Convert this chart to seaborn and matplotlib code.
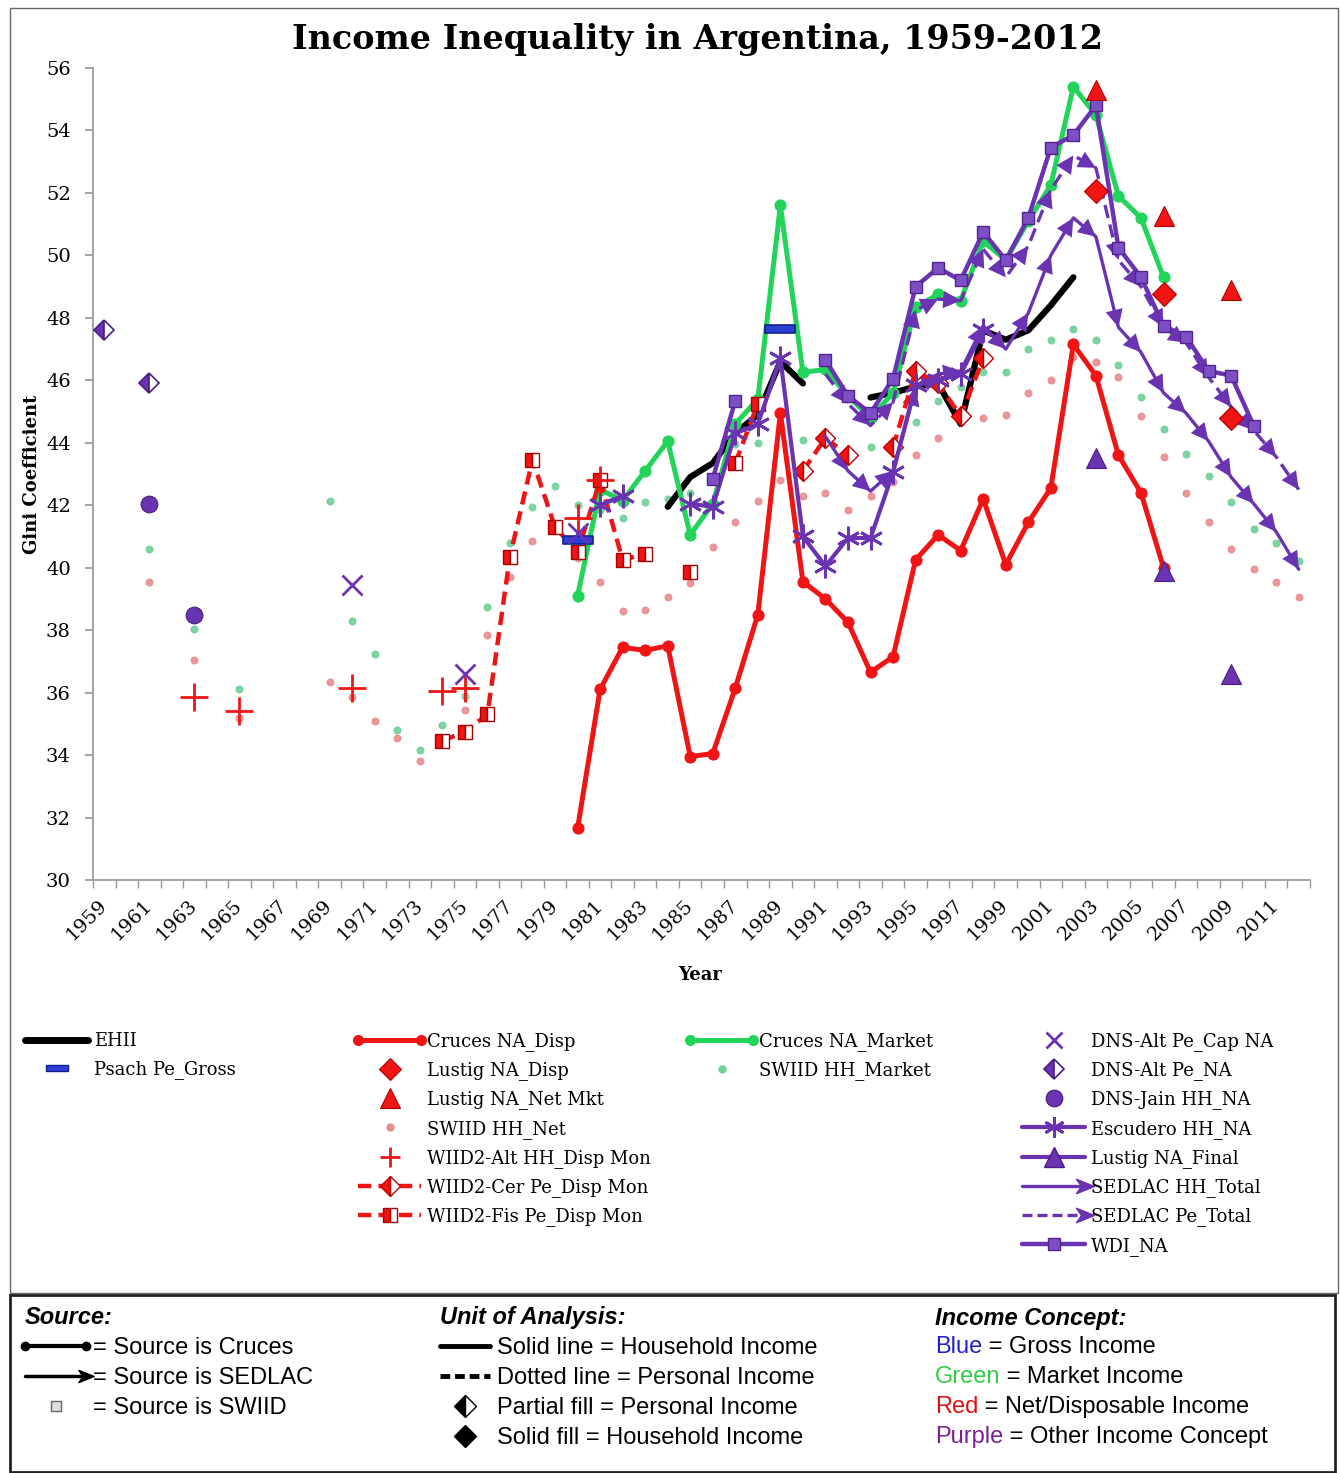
import numpy as np
import pandas as pd
import seaborn as sns
import matplotlib.pyplot as plt
from matplotlib.lines import Line2D
from matplotlib.legend_handler import HandlerLine2D
from matplotlib.patches import Rectangle
from matplotlib.path import Path

nan = np.nan

# ---- data (Gini coefficient by year) ----
SWIID_YEARS = [1961, 1963, 1965] + list(range(1969, 2013))
SWIID_NET = [39.55, 37.05, 35.2,
             36.35, 35.85, 35.1, 34.55, 33.8, 34.4, 35.45, 37.85, 39.7, 40.85,
             41.3, 40.3, 39.55, 38.6, 38.65, 39.05, 39.5, 40.65, 41.45, 42.15,
             42.8, 42.3, 42.4, 41.85, 42.3, 42.75, 43.6, 44.15, 44.65, 44.8,
             44.9, 45.6, 46.0, 46.75, 46.6, 46.1, 44.85, 43.55, 42.4, 41.45,
             40.6, 39.95, 39.55, 39.05]
SWIID_MARKET = [40.6, 38.05, 36.1,
                42.15, 38.3, 37.25, 34.8, 34.15, 34.95, 35.9, 38.75, 40.8, 41.95,
                42.6, 42.0, 41.85, 41.6, 42.1, 42.2, 42.4, 42.9, 43.95, 44.0,
                44.95, 44.1, 44.2, 43.5, 43.85, 44.0, 44.65, 45.35, 45.8, 46.25,
                46.25, 47.0, 47.3, 47.65, 47.3, 46.5, 45.45, 44.45, 43.65, 42.95,
                42.1, 41.25, 40.8, 40.2]

CRUCES_YEARS = list(range(1980, 2007))
CRUCES_DISP = [31.65, 36.1, 37.45, 37.35, 37.5, 33.95, 34.05, 36.15, 38.5, 44.95,
               39.55, 39.0, 38.25, 36.65, 37.15, 40.25, 41.05, 40.55, 42.2, 40.1,
               41.45, 42.55, 47.15, 46.15, 43.6, 42.4, 40.0]
CRUCES_MARKET = [39.1, 42.5, 42.15, 43.1, 44.05, 41.05, 42.05, 44.6, 45.4, 51.6,
                 46.25, 46.35, 45.5, 44.8, 45.6, 48.35, 48.75, 48.55, 50.45, 49.85,
                 51.1, 52.25, 55.4, 54.5, 51.9, 51.2, 49.3]

EHII_YEARS = list(range(1984, 2003))
EHII = [41.95, 42.9, 43.35, 44.3, 44.9, 46.6, 45.9, nan, nan, 45.45,
        45.6, 45.8, 45.9, 44.6, 47.6, 47.3, 47.6, 48.4, 49.3]

PSACH_YEARS = [1980, 1989]
PSACH = [40.9, 47.65]

LUSTIG_YEARS = [2003, 2006, 2009]
LUSTIG_DISP = [52.05, 48.75, 44.8]
LUSTIG_NET_MKT = [55.3, 51.25, 48.9]
LUSTIG_FINAL = [43.5, 39.9, 36.6]

WIID_ALT_YEARS = [1963, 1965, 1970, 1974, 1975, 1980, 1981]
WIID_ALT = [35.85, 35.4, 36.15, 36.05, 36.15, 41.6, 42.8]

WIID_CER_YEARS = list(range(1990, 1999))
WIID_CER = [43.1, 44.15, 43.6, nan, 43.85, 46.3, 45.9, 44.85, 46.7]

WIID_FIS_YEARS = list(range(1974, 1989))
WIID_FIS = [34.45, 34.75, 35.3, 40.35, 43.45, 41.3, 40.5, 42.8, 40.25, 40.45,
            nan, 39.85, nan, 43.35, 45.25]

DNS_CAP_YEARS = [1970, 1975, 1980]
DNS_CAP = [39.45, 36.6, 41.1]
DNS_PE_YEARS = [1959, 1961]
DNS_PE = [47.6, 45.9]
DNS_JAIN_YEARS = [1961, 1963]
DNS_JAIN = [42.05, 38.5]

ESCUDERO_YEARS = list(range(1981, 1999))
ESCUDERO = [42.0, 42.3, nan, nan, 42.05, 41.95, 44.3, 44.6, 46.7, 41.0,
            40.05, 40.95, 40.95, 43.05, 45.85, 46.0, 46.2, 47.6]

SEDLAC_YEARS = list(range(1991, 2013))
SEDLAC_HH = [44.2, 43.1, 42.45, 43.1, 45.75, 46.2, 46.3, 47.75, 47.0, 48.15,
             50.0, 51.2, 50.6, 47.7, 46.9, 45.6, 44.95, 44.05, 42.9, 42.05,
             41.15, 39.95]
SEDLAC_PE = [46.2, 45.25, 44.55, 45.3, 48.25, 48.6, 48.55, 50.2, 49.3, 50.3,
             52.1, 53.2, 52.8, 49.85, 49.0, 47.7, 47.2, 46.1, 45.15, 44.4,
             43.55, 42.5]

WDI_YEARS = list(range(1986, 2011))
WDI = [42.85, 45.35, nan, nan, nan, 46.65, 45.5, 44.95, 46.05, 49.0,
       49.6, 49.2, 50.75, 49.85, 51.2, 53.45, 53.85, 54.8, 50.25, 49.3,
       47.75, 47.4, 46.3, 46.15, 44.55]

# ---- styles ----
RED = "#f01414"
GREEN = "#22d45a"
PURPLE = "#6a33b2"
BLUE = "#2b3fd6"
PINK = "#e98c8e"
MINT = "#6fcf97"
W, H = 1340, 1473

ARROW = Path([(1, 0), (-1, 0.8), (-0.45, 0), (-1, -0.8), (1, 0)], closed=True)
RECT = Path([(-1, -0.28), (1, -0.28), (1, 0.28), (-1, 0.28), (-1, -0.28)], closed=True)

sns.set_theme(style="white")
plt.rcParams["font.family"] = ["DejaVu Serif"]
plt.rcParams["text.color"] = "black"
plt.rcParams["axes.labelcolor"] = "black"
plt.rcParams["xtick.color"] = "black"
plt.rcParams["ytick.color"] = "black"


def series_frame(years, values):
    df = pd.DataFrame({"year": years, "gini": values})
    df["seg"] = df["gini"].isna().cumsum()
    return df.dropna()


def draw(ax, years, values, **style):
    df = series_frame(years, values)
    sns.lineplot(data=df, x="year", y="gini", units="seg", estimator=None,
                 legend=False, ax=ax, **style)
    return df


def add_arrowheads(ax, df, color):
    for _, seg in df.groupby("seg"):
        xs, ys = seg["year"].to_numpy(float), seg["gini"].to_numpy(float)
        for x0, y0, x1, y1 in zip(xs[:-1], ys[:-1], xs[1:], ys[1:]):
            ax.annotate("", xy=(x1, y1), xytext=(x0, y0),
                        arrowprops=dict(arrowstyle="-|>,head_length=0.9,head_width=0.45",
                                        color=color, lw=0, shrinkA=0, shrinkB=0,
                                        mutation_scale=14))


class ArrowEndHandler(HandlerLine2D):
    def create_artists(self, *args, **kwargs):
        artists = super().create_artists(*args, **kwargs)
        for a in artists:
            a.set_markevery([len(a.get_xdata()) - 1])
        return artists


fig = plt.figure(figsize=(W / 100, H / 100), dpi=100)
ax = fig.add_axes([93 / W, 1 - 880 / H, 1217 / W, 812 / H])

dots = dict(linestyle="none", marker="o", markersize=5, zorder=2)
draw(ax, SWIID_YEARS, SWIID_NET, color=PINK, markeredgecolor=PINK, alpha=0.9, **dots)
draw(ax, SWIID_YEARS, SWIID_MARKET, color=MINT, markeredgecolor=MINT, alpha=0.9, **dots)

draw(ax, CRUCES_YEARS, CRUCES_DISP, color=RED, linewidth=3.6, marker="o", markersize=8,
     markeredgecolor=RED, zorder=3)
draw(ax, EHII_YEARS, EHII, color="black", linewidth=4.5, solid_capstyle="round", zorder=3)
draw(ax, CRUCES_YEARS, CRUCES_MARKET, color=GREEN, linewidth=3.6, marker="o", markersize=8,
     markeredgecolor=GREEN, zorder=3)

draw(ax, WIID_FIS_YEARS, WIID_FIS, color=RED, linewidth=3.2, linestyle=(0, (3, 1.6)),
     marker="s", markersize=10, fillstyle="left", markerfacecoloralt="white",
     markeredgecolor="#a80000", markeredgewidth=1, zorder=4)
draw(ax, WIID_CER_YEARS, WIID_CER, color=RED, linewidth=3.2, linestyle=(0, (3, 1.6)),
     marker="D", markersize=10, fillstyle="left", markerfacecoloralt="white",
     markeredgecolor="#c00000", markeredgewidth=1, zorder=4)

sed_pe = draw(ax, SEDLAC_YEARS, SEDLAC_PE, color=PURPLE, linewidth=2.4,
              linestyle=(0, (4, 2)), zorder=4)
add_arrowheads(ax, sed_pe, PURPLE)
sed_hh = draw(ax, SEDLAC_YEARS, SEDLAC_HH, color=PURPLE, linewidth=2.4, zorder=4)
add_arrowheads(ax, sed_hh, PURPLE)
draw(ax, ESCUDERO_YEARS, ESCUDERO, color=PURPLE, linewidth=3, marker=(6, 2, 0),
     markersize=17, markeredgecolor=PURPLE, markeredgewidth=2, zorder=4)
draw(ax, WDI_YEARS, WDI, color=PURPLE, linewidth=3.2, marker="s", markersize=9,
     markerfacecolor="#7d4fc4", markeredgecolor="#55238f", markeredgewidth=1, zorder=5)

pts = dict(linestyle="none", zorder=6)
draw(ax, PSACH_YEARS, PSACH, color=BLUE, marker=RECT, markersize=22,
     markeredgecolor="#14208c", markeredgewidth=1.2, **pts)
draw(ax, LUSTIG_YEARS, LUSTIG_DISP, color=RED, marker="D", markersize=12,
     markeredgecolor="#b00000", markeredgewidth=0.8, **pts)
draw(ax, LUSTIG_YEARS, LUSTIG_NET_MKT, color=RED, marker="^", markersize=15,
     markeredgecolor="#b00000", markeredgewidth=0.8, **pts)
draw(ax, LUSTIG_YEARS, LUSTIG_FINAL, color=PURPLE, marker="^", markersize=15,
     markeredgecolor="#4a1d80", markeredgewidth=0.8, **pts)
draw(ax, WIID_ALT_YEARS, WIID_ALT, color=RED, marker="+", markersize=20,
     markeredgecolor=RED, markeredgewidth=2, **pts)
draw(ax, DNS_CAP_YEARS, DNS_CAP, color=PURPLE, marker="x", markersize=14,
     markeredgecolor=PURPLE, markeredgewidth=2, **pts)
draw(ax, DNS_PE_YEARS, DNS_PE, color=PURPLE, marker="D", markersize=10, fillstyle="left",
     markerfacecoloralt="white", markeredgecolor="#4a1d80", markeredgewidth=1.2, **pts)
draw(ax, DNS_JAIN_YEARS, DNS_JAIN, color=PURPLE, marker="o", markersize=12,
     markeredgecolor="#4a1d80", markeredgewidth=0.8, **pts)

# ---- axes ----
ax.set_xlim(1958.5, 2012.5)
ax.set_ylim(30, 56)
ax.set_yticks(range(30, 57, 2))
ax.set_xticks(range(1959, 2012, 2))
ax.set_xticks(np.arange(1958.5, 2013, 1), minor=True)
ax.set_xticklabels([str(y) for y in range(1959, 2012, 2)], rotation=45,
                   ha="right", va="center", rotation_mode="anchor")
ax.tick_params(axis="x", which="major", bottom=False, labelsize=14, pad=10)
ax.tick_params(axis="x", which="minor", bottom=True, length=6, color="#999999")
ax.tick_params(axis="y", left=True, length=6, color="#999999", labelsize=14, pad=10)
sns.despine(ax=ax)
for side in ("left", "bottom"):
    ax.spines[side].set_color("#999999")
ax.set_xlabel("Year", fontsize=13, fontweight="bold")
ax.set_ylabel("Gini Coefficient", fontsize=13, fontweight="bold")
ax.xaxis.set_label_coords(0.499, -0.106)
ax.yaxis.set_label_coords(-0.043, 0.5)

fig.text(698 / W, 1 - 40 / H, "Income Inequality in Argentina, 1959-2012",
         ha="center", va="center", fontsize=24, fontweight="bold")

# ---- series legend (four columns) ----
h_ehii = Line2D([], [], color="black", lw=5)
h_psach = Line2D([], [], ls="none", marker=RECT, ms=16, mfc=BLUE, mec="#14208c", mew=1)
h_cdisp = Line2D([], [], color=RED, lw=3.6, marker="o", ms=7, mec=RED)
h_ldisp = Line2D([], [], ls="none", marker="D", ms=11, mfc=RED, mec="#b00000", mew=0.8)
h_lnet = Line2D([], [], ls="none", marker="^", ms=14, mfc=RED, mec="#b00000", mew=0.8)
h_snet = Line2D([], [], ls="none", marker="o", ms=5, mfc=PINK, mec=PINK)
h_walt = Line2D([], [], ls="none", marker="+", ms=14, mec=RED, mew=2)
h_wcer = Line2D([], [], color=RED, lw=3.2, ls=(0, (3, 1.6)), marker="D", ms=10,
                fillstyle="left", markerfacecoloralt="white", mfc=RED, mec="#c00000", mew=1)
h_wfis = Line2D([], [], color=RED, lw=3.2, ls=(0, (3, 1.6)), marker="s", ms=10,
                fillstyle="left", markerfacecoloralt="white", mfc=RED, mec="#a80000", mew=1)
h_cmkt = Line2D([], [], color=GREEN, lw=3.6, marker="o", ms=7, mec=GREEN)
h_smkt = Line2D([], [], ls="none", marker="o", ms=5, mfc=MINT, mec=MINT)
h_dcap = Line2D([], [], ls="none", marker="x", ms=12, mec=PURPLE, mew=2)
h_dpe = Line2D([], [], ls="none", marker="D", ms=10, fillstyle="left",
               markerfacecoloralt="white", mfc=PURPLE, mec="#4a1d80", mew=1.2)
h_djain = Line2D([], [], ls="none", marker="o", ms=12, mfc=PURPLE, mec="#4a1d80", mew=0.8)
h_esc = Line2D([], [], color=PURPLE, lw=3, marker=(6, 2, 0), ms=15, mec=PURPLE, mew=2)
h_lfin = Line2D([], [], color=PURPLE, lw=3, marker="^", ms=14, mfc=PURPLE, mec="#4a1d80")
h_shh = Line2D([], [], color=PURPLE, lw=2.4, marker=ARROW, ms=13, mfc=PURPLE, mec=PURPLE)
h_spe = Line2D([], [], color=PURPLE, lw=2.4, ls=(0, (3, 1.5)), marker=ARROW, ms=13,
               mfc=PURPLE, mec=PURPLE)
h_wdi = Line2D([], [], color=PURPLE, lw=3.2, marker="s", ms=9, mfc="#7d4fc4", mec="#55238f")

two_ends = HandlerLine2D(numpoints=2, marker_pad=0)
arrow_end = ArrowEndHandler()
columns = [
    (25, [h_ehii, h_psach], ["EHII", "Psach Pe_Gross"], {}),
    (358, [h_cdisp, h_ldisp, h_lnet, h_snet, h_walt, h_wcer, h_wfis],
     ["Cruces NA_Disp", "Lustig NA_Disp", "Lustig NA_Net Mkt", "SWIID HH_Net",
      "WIID2-Alt HH_Disp Mon", "WIID2-Cer Pe_Disp Mon", "WIID2-Fis Pe_Disp Mon"],
     {h_cdisp: two_ends}),
    (690, [h_cmkt, h_smkt], ["Cruces NA_Market", "SWIID HH_Market"], {h_cmkt: two_ends}),
    (1022, [h_dcap, h_dpe, h_djain, h_esc, h_lfin, h_shh, h_spe, h_wdi],
     ["DNS-Alt Pe_Cap NA", "DNS-Alt Pe_NA", "DNS-Jain HH_NA", "Escudero HH_NA",
      "Lustig NA_Final", "SEDLAC HH_Total", "SEDLAC Pe_Total", "WDI_NA"],
     {h_shh: arrow_end, h_spe: arrow_end}),
]
for x_px, handles, labels, hmap in columns:
    fig.legend(handles, labels, loc="upper left", bbox_to_anchor=(x_px / W, 1 - 1032 / H),
               frameon=False, fontsize=13, handlelength=3.5, handletextpad=0.3,
               labelspacing=0.57, borderpad=0, borderaxespad=0, handler_map=hmap)

# ---- key box at the bottom ----
box_font = {"family": "Liberation Sans", "size": 17}
head_font = {"family": "Liberation Sans", "size": 17, "weight": "bold", "style": "italic"}

k_cruces = Line2D([], [], color="black", lw=3, marker="o", ms=6)
k_sedlac = Line2D([], [], color="black", lw=2.5, marker=ARROW, ms=11, mfc="black", mec="black")
k_swiid = Line2D([], [], ls="none", marker="s", ms=7, mfc="#dddddd", mec="#666666")
fig.legend([k_cruces, k_sedlac, k_swiid],
           ["= Source is Cruces", "= Source is SEDLAC", "= Source is SWIID"],
           loc="upper left", bbox_to_anchor=(25 / W, 1 - 1306 / H), title="Source:",
           alignment="left", title_fontproperties=head_font, prop=box_font, frameon=False,
           handlelength=2.6, handletextpad=0.3, labelspacing=0.34, borderpad=0,
           borderaxespad=0, handler_map={k_cruces: HandlerLine2D(numpoints=2, marker_pad=0),
                                         k_sedlac: ArrowEndHandler()})

k_solid = Line2D([], [], color="black", lw=3.5)
k_dash = Line2D([], [], color="black", lw=3.5, ls=(0, (2, 1)))
k_part = Line2D([], [], ls="none", marker="D", ms=11, fillstyle="left",
                markerfacecoloralt="white", mfc="black", mec="black")
k_full = Line2D([], [], ls="none", marker="D", ms=11, mfc="black", mec="black")
fig.legend([k_solid, k_dash, k_part, k_full],
           ["Solid line = Household Income", "Dotted line = Personal Income",
            "Partial fill = Personal Income", "Solid fill = Household Income"],
           loc="upper left", bbox_to_anchor=(440 / W, 1 - 1306 / H), title="Unit of Analysis:",
           alignment="left", title_fontproperties=head_font, prop=box_font, frameon=False,
           handlelength=2.1, handletextpad=0.3, labelspacing=0.34, borderpad=0,
           borderaxespad=0)

fig.text(935 / W, 1 - 1318 / H, "Income Concept:", ha="left", va="center", **head_font)
concepts = [("Blue", "#2020d0", " = Gross Income"),
            ("Green", "#33cc44", " = Market Income"),
            ("Red", "#dd1111", " = Net/Disposable Income"),
            ("Purple", "#7a1f8f", " = Other Income Concept")]
for i, (word, col, rest) in enumerate(concepts):
    y = 1 - (1347 + i * 30) / H
    t = fig.text(935 / W, y, word, color=col, ha="left", va="center", **box_font)
    ax.annotate(rest, xy=(1, 0), xycoords=t, ha="left", va="bottom",
                color="black", annotation_clip=False, **box_font)

fig.add_artist(Rectangle((10 / W, 1 - 1293 / H), 1328 / W, 1285 / H,
                         transform=fig.transFigure, fill=False, lw=1, ec="#666666"))
fig.add_artist(Rectangle((10 / W, 1 - 1472 / H), 1325 / W, 177 / H,
                         transform=fig.transFigure, fill=False, lw=2, ec="#222222"))

fig.savefig("out.png", dpi=100)
